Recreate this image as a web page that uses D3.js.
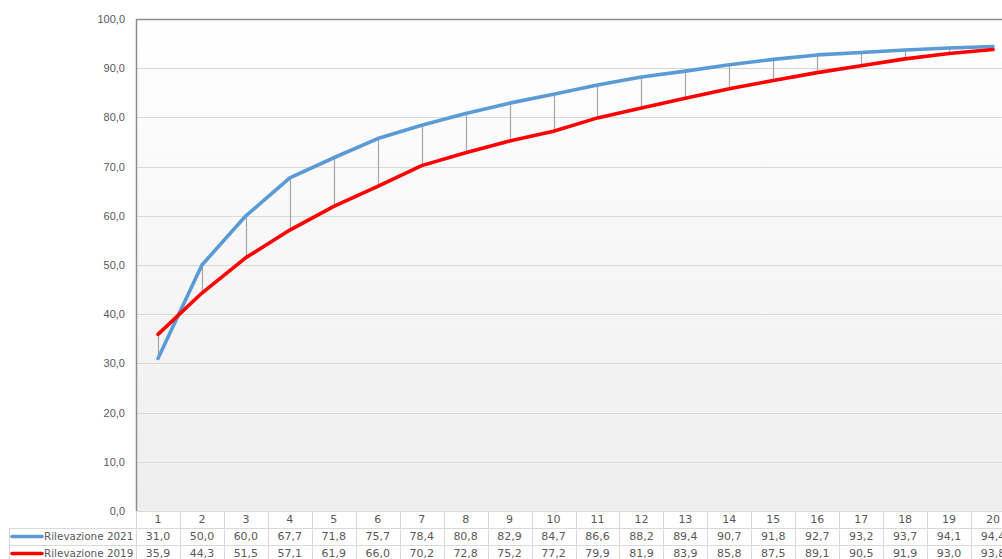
<!DOCTYPE html>
<html>
<head>
<meta charset="utf-8">
<script src="https://cdn.jsdelivr.net/npm/d3@7"></script>
<style>
  html, body { margin: 0; padding: 0; background: #ffffff; }
  svg { display: block; font-family: "DejaVu Sans", Verdana, sans-serif; }
</style>
</head>
<body>
<svg id="chart" width="1002" height="559"></svg>
<script>
// Categories and the two survey series
const categories = [1, 2, 3, 4, 5, 6, 7, 8, 9, 10, 11, 12, 13, 14, 15, 16, 17, 18, 19, 20];
const rilevazione2021 = [31.0, 50.0, 60.0, 67.7, 71.8, 75.7, 78.4, 80.8, 82.9, 84.7, 86.6, 88.2, 89.4, 90.7, 91.8, 92.7, 93.2, 93.7, 94.1, 94.4];
const rilevazione2019 = [35.9, 44.3, 51.5, 57.1, 61.9, 66.0, 70.2, 72.8, 75.2, 77.2, 79.9, 81.9, 83.9, 85.8, 87.5, 89.1, 90.5, 91.9, 93.0, 93.8];
const yTicks = [0, 10, 20, 30, 40, 50, 60, 70, 80, 90, 100];

const seriesList = [
  { name: "Rilevazione 2021", values: rilevazione2021, color: "#5b9bd5" },
  { name: "Rilevazione 2019", values: rilevazione2019, color: "#ff0000" }
];

const svg = d3.select("#chart");
const fmt = v => d3.format(".1f")(v).replace(".", ",");

const plot = { left: 136, top: 19, bottom: 511, bandW: 43.95 };
const plotRight = plot.left + plot.bandW * categories.length;

const x = d3.scaleBand().domain(categories).range([plot.left, plotRight]).padding(0);
const y = d3.scaleLinear().domain([0, 100]).range([plot.bottom, plot.top]);

// Plot area background gradient
const defs = svg.append("defs");
const grad = defs.append("linearGradient").attr("id", "bg").attr("x1", 0).attr("y1", 0).attr("x2", 0).attr("y2", 1);
grad.append("stop").attr("offset", "0%").attr("stop-color", "#ffffff");
grad.append("stop").attr("offset", "100%").attr("stop-color", "#eeeeee");

svg.append("rect")
  .attr("x", plot.left).attr("y", plot.top)
  .attr("width", plotRight - plot.left).attr("height", plot.bottom - plot.top)
  .attr("fill", "url(#bg)");

// Horizontal gridlines
svg.append("g").selectAll("line").data(yTicks.filter(t => t > 0 && t < 100)).join("line")
  .attr("x1", plot.left).attr("x2", plotRight)
  .attr("y1", d => Math.round(y(d)) + 0.5).attr("y2", d => Math.round(y(d)) + 0.5)
  .attr("stroke", "#d9d9d9").attr("stroke-width", 1);

// Y axis
const yAxis = d3.axisLeft(y).tickValues(yTicks).tickFormat(fmt).tickSize(0).tickPadding(11);
const yg = svg.append("g").attr("transform", `translate(${plot.left},0)`).call(yAxis);
yg.select(".domain").remove();
yg.selectAll("text").attr("fill", "#595959").attr("font-size", "11px");

// Frame: top border and left axis line
svg.append("line").attr("x1", plot.left).attr("x2", plotRight)
  .attr("y1", plot.top + 0.5).attr("y2", plot.top + 0.5)
  .attr("stroke", "#8c8c8c").attr("stroke-width", 1.5);
svg.append("line").attr("x1", plot.left + 0.5).attr("x2", plot.left + 0.5)
  .attr("y1", plot.top).attr("y2", plot.bottom)
  .attr("stroke", "#8c8c8c").attr("stroke-width", 1.5);

// High-low drop lines between the two series
svg.append("g").selectAll("line").data(categories).join("line")
  .attr("x1", d => Math.round(x(d) + x.bandwidth() / 2) + 0.5)
  .attr("x2", d => Math.round(x(d) + x.bandwidth() / 2) + 0.5)
  .attr("y1", (d, i) => y(rilevazione2021[i]))
  .attr("y2", (d, i) => y(rilevazione2019[i]))
  .attr("stroke", "#a6a6a6").attr("stroke-width", 1.2);

// Series lines
const line = d3.line()
  .x((v, i) => x(categories[i]) + x.bandwidth() / 2)
  .y(v => y(v));

seriesList.forEach(s => {
  svg.append("path")
    .datum(s.values)
    .attr("d", line)
    .attr("fill", "none")
    .attr("stroke", s.color)
    .attr("stroke-width", 3.6)
    .attr("stroke-linejoin", "round")
    .attr("stroke-linecap", "round");
});

// Data table below the plot
const rowH = 17;
const tableTop = plot.bottom;
const headerLeft = 9;
const gridColor = "#d9d9d9";
const table = svg.append("g");

// Horizontal rules
table.append("line").attr("x1", plot.left).attr("x2", plotRight)
  .attr("y1", tableTop + 0.5).attr("y2", tableTop + 0.5).attr("stroke", gridColor);
[1, 2, 3].forEach(r => {
  table.append("line").attr("x1", headerLeft).attr("x2", plotRight)
    .attr("y1", tableTop + r * rowH + 0.5).attr("y2", tableTop + r * rowH + 0.5)
    .attr("stroke", gridColor);
});
// Vertical rules
table.selectAll("line.v").data(categories.concat([null])).join("line")
  .attr("class", "v")
  .attr("x1", (d, i) => Math.round(plot.left + i * x.bandwidth()) + 0.5)
  .attr("x2", (d, i) => Math.round(plot.left + i * x.bandwidth()) + 0.5)
  .attr("y1", tableTop).attr("y2", tableTop + 3 * rowH)
  .attr("stroke", gridColor);
table.append("line").attr("x1", headerLeft + 0.5).attr("x2", headerLeft + 0.5)
  .attr("y1", tableTop + rowH).attr("y2", tableTop + 3 * rowH).attr("stroke", gridColor);

// Category labels
table.selectAll("text.cat").data(categories).join("text")
  .attr("class", "cat")
  .attr("x", d => x(d) + x.bandwidth() / 2)
  .attr("y", tableTop + rowH / 2)
  .attr("dy", "0.35em")
  .attr("text-anchor", "middle")
  .attr("font-size", "11px")
  .attr("fill", "#595959")
  .text(d => d);

// Series rows with legend keys
seriesList.forEach((s, r) => {
  const cy = tableTop + (r + 1) * rowH + rowH / 2;
  table.append("line")
    .attr("x1", 12).attr("x2", 42).attr("y1", cy).attr("y2", cy)
    .attr("stroke", s.color).attr("stroke-width", 3.6).attr("stroke-linecap", "round");
  table.append("text")
    .attr("x", 44).attr("y", cy).attr("dy", "0.35em")
    .attr("font-size", "10.4px").attr("fill", "#595959")
    .text(s.name);
  table.selectAll(null).data(s.values).join("text")
    .attr("x", (v, i) => x(categories[i]) + x.bandwidth() / 2)
    .attr("y", cy).attr("dy", "0.35em")
    .attr("text-anchor", "middle")
    .attr("font-size", "11px").attr("fill", "#595959")
    .text(v => fmt(v));
});
</script>
</body>
</html>
